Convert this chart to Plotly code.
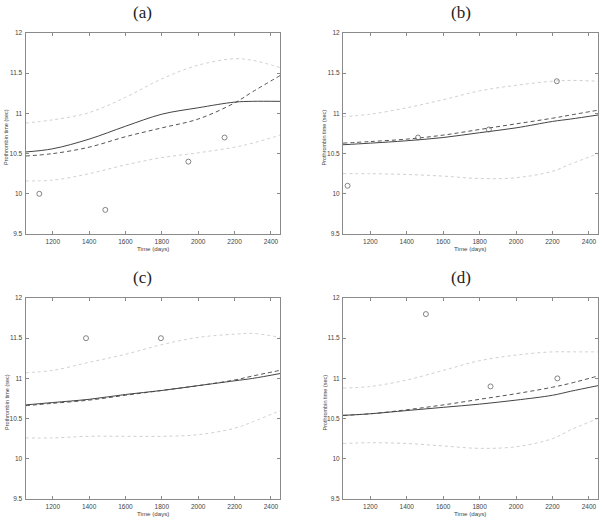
import plotly.graph_objects as go

# ---------------- data ----------------
grid_x = [1050, 1200, 1400, 1600, 1800, 2000, 2200, 2300, 2450]

panel_labels = ["(a)", "(b)", "(c)", "(d)"]

obs_a_x = [1126, 1489, 1946, 2145]
obs_a_y = [10.0, 9.8, 10.4, 10.7]
solid_a = [10.52, 10.56, 10.68, 10.84, 10.99, 11.07, 11.14, 11.15, 11.15]
dash_a = [10.47, 10.50, 10.58, 10.71, 10.82, 10.93, 11.13, 11.27, 11.47]
upper_a = [10.88, 10.92, 11.01, 11.20, 11.43, 11.60, 11.68, 11.66, 11.57]
lower_a = [10.16, 10.17, 10.25, 10.36, 10.45, 10.51, 10.58, 10.63, 10.73]

obs_b_x = [1075, 1462, 1851, 2224]
obs_b_y = [10.1, 10.7, 10.8, 11.4]
solid_b = [10.61, 10.63, 10.66, 10.70, 10.76, 10.82, 10.90, 10.93, 10.98]
dash_b = [10.63, 10.65, 10.68, 10.73, 10.80, 10.87, 10.94, 10.98, 11.04]
upper_b = [10.96, 10.99, 11.07, 11.17, 11.28, 11.35, 11.40, 11.41, 11.40]
lower_b = [10.25, 10.25, 10.24, 10.22, 10.19, 10.20, 10.28, 10.37, 10.50]

obs_c_x = [1383, 1795]
obs_c_y = [11.5, 11.5]
solid_c = [10.67, 10.70, 10.74, 10.80, 10.85, 10.91, 10.97, 11.00, 11.06]
dash_c = [10.66, 10.69, 10.73, 10.79, 10.85, 10.91, 10.98, 11.03, 11.10]
upper_c = [11.07, 11.10, 11.20, 11.30, 11.42, 11.51, 11.55, 11.56, 11.51]
lower_c = [10.26, 10.26, 10.28, 10.28, 10.28, 10.30, 10.38, 10.46, 10.60]

obs_d_x = [1505, 1860, 2227]
obs_d_y = [11.8, 10.9, 11.0]
solid_d = [10.54, 10.56, 10.60, 10.64, 10.68, 10.73, 10.79, 10.84, 10.91]
dash_d = [10.54, 10.56, 10.61, 10.67, 10.74, 10.81, 10.89, 10.94, 11.03]
upper_d = [10.88, 10.90, 10.98, 11.10, 11.22, 11.29, 11.33, 11.33, 11.33]
lower_d = [10.19, 10.20, 10.19, 10.16, 10.13, 10.15, 10.25, 10.36, 10.50]

x_ticks = [1200, 1400, 1600, 1800, 2000, 2200, 2400]
y_ticks = [9.5, 10, 10.5, 11, 11.5, 12]
y_tick_text = ["9.5", "10", "10.5", "11", "11.5", "12"]
x_title = "Time (days)"
y_title = "Prothrombin time (sec)"

panels = [
    (obs_a_x, obs_a_y, solid_a, dash_a, upper_a, lower_a),
    (obs_b_x, obs_b_y, solid_b, dash_b, upper_b, lower_b),
    (obs_c_x, obs_c_y, solid_c, dash_c, upper_c, lower_c),
    (obs_d_x, obs_d_y, solid_d, dash_d, upper_d, lower_d),
]

# ---------------- layout geometry (pixels) ----------------
W, H = 603, 520
col_px = [(25.5, 280.0), (343.0, 598.0)]
row_px = [(33.0, 234.0), (298.0, 499.0)]

def px_x(p):
    return p / W

def px_y(p):
    return 1 - p / H

fig = go.Figure()
annotations = []
layout_axes = {}

for i, (ox, oy, s, d, up, lo) in enumerate(panels):
    r, c = divmod(i, 2)
    n = i + 1
    xa = "x" if n == 1 else f"x{n}"
    ya = "y" if n == 1 else f"y{n}"
    xkey = "xaxis" if n == 1 else f"xaxis{n}"
    ykey = "yaxis" if n == 1 else f"yaxis{n}"
    x0, x1 = col_px[c]
    y0, y1 = row_px[r]

    dot_style = dict(color="#d0d0d0", width=1, dash="dot")
    fig.add_trace(go.Scatter(x=grid_x, y=up, mode="lines", line=dict(shape="spline", **dot_style),
                             xaxis=xa, yaxis=ya, showlegend=False, hoverinfo="skip"))
    fig.add_trace(go.Scatter(x=grid_x, y=lo, mode="lines", line=dict(shape="spline", **dot_style),
                             xaxis=xa, yaxis=ya, showlegend=False, hoverinfo="skip"))
    fig.add_trace(go.Scatter(x=grid_x, y=d, mode="lines",
                             line=dict(color="#555555", width=1, dash="4px,3px", shape="spline"),
                             xaxis=xa, yaxis=ya, showlegend=False))
    fig.add_trace(go.Scatter(x=grid_x, y=s, mode="lines",
                             line=dict(color="#444444", width=1, shape="spline"),
                             xaxis=xa, yaxis=ya, showlegend=False))
    fig.add_trace(go.Scatter(x=ox, y=oy, mode="markers",
                             marker=dict(symbol="circle-open", size=5, color="#666666",
                                         line=dict(width=0.8, color="#666666")),
                             xaxis=xa, yaxis=ya, showlegend=False))

    common = dict(showgrid=False, zeroline=False, showline=True, linecolor="#8a8a8a",
                  linewidth=1, mirror="ticks", ticks="inside", ticklen=3, automargin=False,
                  tickcolor="#8a8a8a", tickfont=dict(family="Liberation Sans", size=6.5, color="#444444"))
    layout_axes[xkey] = dict(common, domain=[px_x(x0), px_x(x1)], range=[1050, 2450],
                             tickvals=x_ticks, anchor=ya, ticklabelstandoff=1)
    layout_axes[ykey] = dict(common, domain=[px_y(y1), px_y(y0)], range=[9.5, 12],
                             tickvals=y_ticks, ticktext=y_tick_text, anchor=xa, ticklabelstandoff=1)

    # panel title
    annotations.append(dict(text=panel_labels[i], xref="paper", yref="paper",
                            x=px_x((x0 + x1) / 2 - 10), y=px_y(y0 - 21),
                            showarrow=False, xanchor="center", yanchor="middle",
                            font=dict(family="Liberation Serif", size=17, color="#222222")))
    # x title
    annotations.append(dict(text=x_title, xref="paper", yref="paper",
                            x=px_x((x0 + x1) / 2), y=px_y(y1 + 14),
                            showarrow=False, xanchor="center", yanchor="middle",
                            font=dict(family="Liberation Sans", size=6.2, color="#444444")))
    # y title
    annotations.append(dict(text=y_title, xref="paper", yref="paper",
                            x=px_x(x0 - 19), y=px_y((y0 + y1) / 2 + 4),
                            showarrow=False, xanchor="center", yanchor="middle", textangle=-90,
                            font=dict(family="Liberation Sans", size=5.5, color="#444444")))

fig.update_layout(width=W, height=H, margin=dict(l=0, r=0, t=0, b=0, autoexpand=False),
                  paper_bgcolor="white", plot_bgcolor="white",
                  annotations=annotations, **layout_axes)

fig.write_html("out.html", config={"displayModeBar": False},
               post_script="document.body.style.margin='0';")
